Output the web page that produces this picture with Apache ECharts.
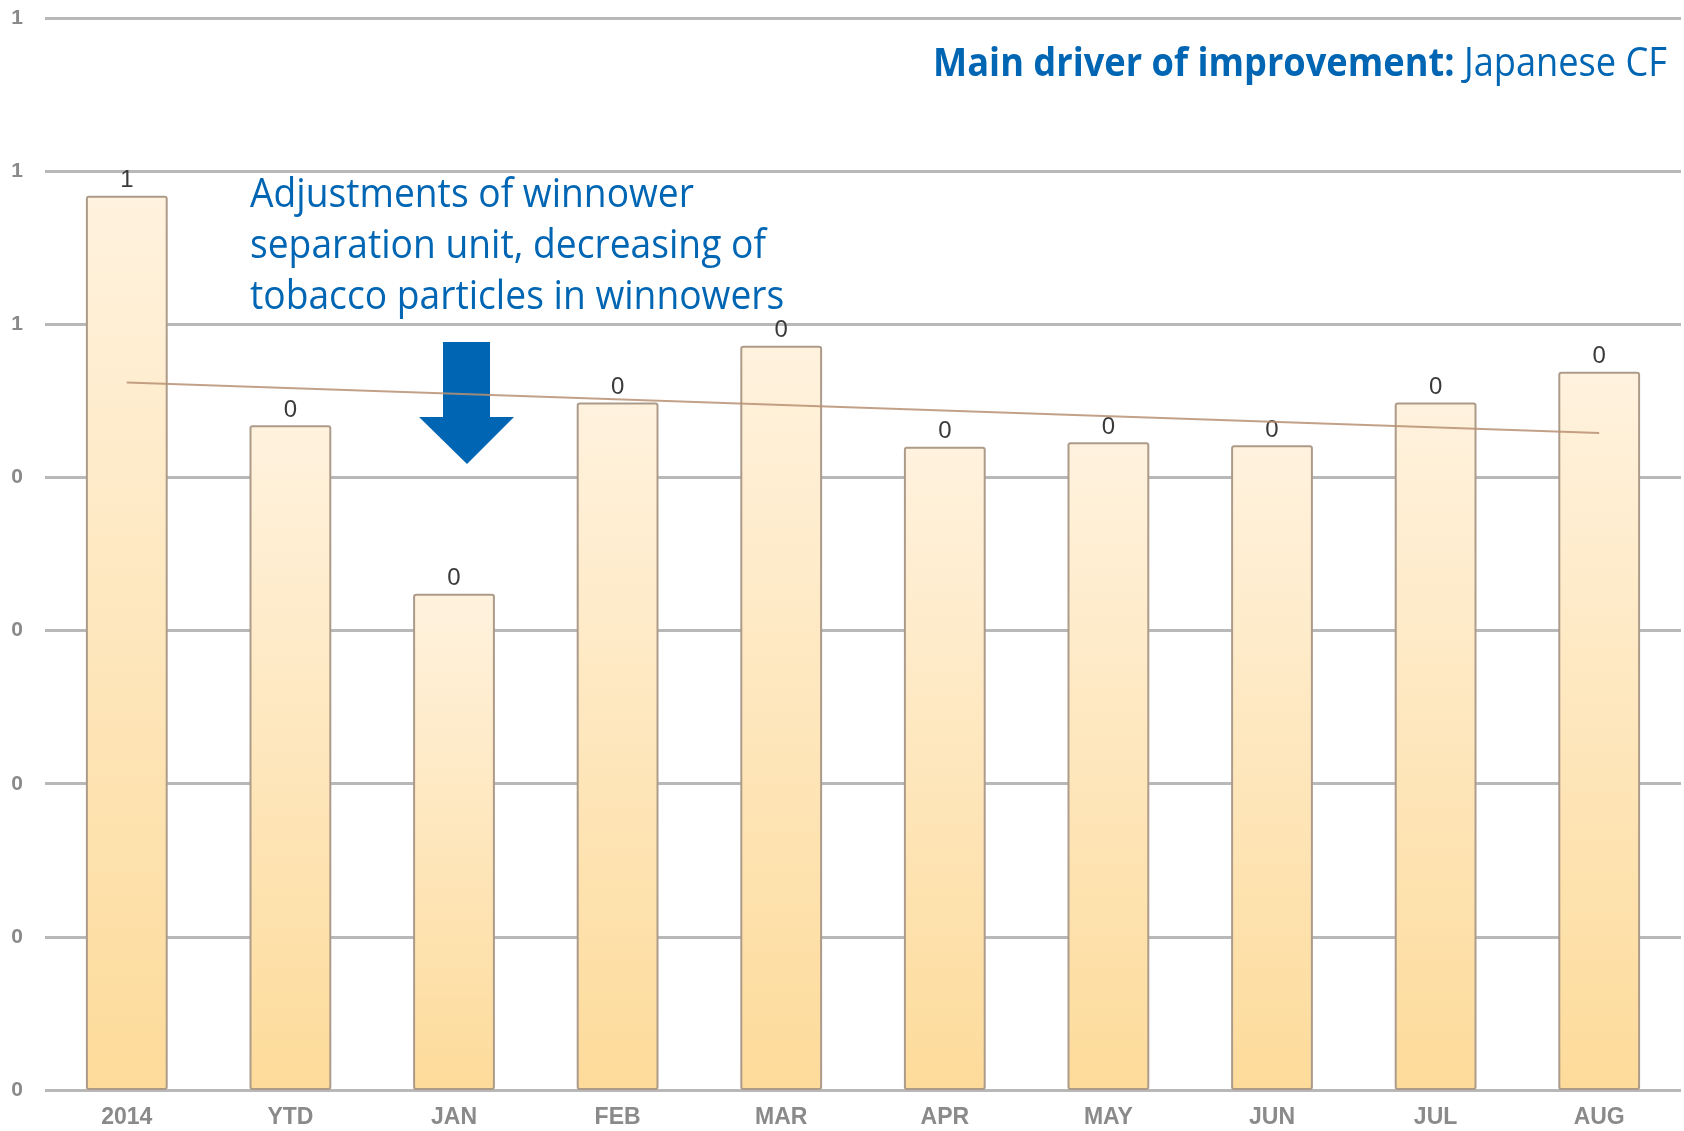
<!DOCTYPE html>
<html>
<head>
<meta charset="utf-8">
<title>Winnower chart</title>
<script src="https://cdn.jsdelivr.net/npm/echarts@6/dist/echarts.min.js"></script>
<style>
  html, body { margin: 0; padding: 0; background: #fff; }
  #chart { width: 1684px; height: 1131px; }
</style>
</head>
<body>
<div id="chart"></div>
<script>
// 类目和数值
var months = ['2014', 'YTD', 'JAN', 'FEB', 'MAR', 'APR', 'MAY', 'JUN', 'JUL', 'AUG'];
var values = [0.584, 0.434, 0.324, 0.449, 0.486, 0.420, 0.423, 0.421, 0.449, 0.469];
// 趋势线：只读出首尾两个端点
var trend = [0.462, null, null, null, null, null, null, null, null, 0.429];

var blue = '#0066b3';

var chart = echarts.init(document.getElementById('chart'));

var option = {
    animation: false,
    grid: {
        left: 45,
        right: 3,
        top: 18,
        bottom: 41
    },
    xAxis: {
        type: 'category',
        data: months,
        axisLine: { show: false },
        axisTick: { show: false },
        axisLabel: {
            margin: 16,
            fontSize: 23,
            fontWeight: 'bold',
            fontFamily: 'Liberation Sans, Arial, sans-serif',
            color: '#8a8a8a'
        }
    },
    yAxis: {
        type: 'value',
        min: 0,
        max: 0.7,
        interval: 0.1,
        axisLine: { show: false },
        axisTick: { show: false },
        axisLabel: {
            margin: 22,
            fontSize: 21,
            fontWeight: 'bold',
            fontFamily: 'Liberation Sans, Arial, sans-serif',
            color: '#8a8a8a',
            formatter: function (v) { return Math.round(v); }
        },
        splitLine: {
            lineStyle: { color: '#b8b8b8', width: 3 }
        }
    },
    series: [
        {
            type: 'bar',
            data: values,
            barWidth: '50%',
            itemStyle: {
                color: new echarts.graphic.LinearGradient(0, 0, 0, 1, [
                    { offset: 0, color: '#fff2de' },
                    { offset: 1, color: '#fddb9a' }
                ]),
                borderColor: '#ad9b8a',
                borderWidth: 2,
                borderRadius: 2
            },
            label: {
                show: true,
                position: 'top',
                distance: 3,
                fontSize: 24,
                fontFamily: 'Liberation Sans, Arial, sans-serif',
                color: '#3a3a3a',
                formatter: function (p) { return Math.round(p.value); }
            }
        },
        {
            type: 'line',
            data: trend,
            connectNulls: true,
            symbol: 'none',
            z: 5,
            lineStyle: { color: 'rgba(185,145,115,0.85)', width: 2 }
        }
    ],
    graphic: [
        {
            type: 'text',
            x: 1667,
            y: 65,
            scaleX: 0.905,
            style: {
                text: '{b|Main driver of improvement:}{n| Japanese CF}',
                align: 'right',
                verticalAlign: 'middle',
                rich: {
                    b: { fontSize: 40, fontWeight: 'bold', fontFamily: 'Open Sans, sans-serif', fill: blue },
                    n: { fontSize: 40, fontFamily: 'Open Sans, sans-serif', fill: blue }
                }
            }
        },
        {
            type: 'text',
            x: 250,
            y: 170,
            scaleX: 0.93,
            style: {
                text: 'Adjustments of winnower\nseparation unit, decreasing of\ntobacco particles in winnowers',
                fontSize: 40,
                lineHeight: 51,
                fontFamily: 'Open Sans, sans-serif',
                fill: blue,
                align: 'left',
                verticalAlign: 'top'
            }
        },
        {
            type: 'polygon',
            shape: {
                points: [[443, 342], [490, 342], [490, 417], [514, 417], [467, 464], [419, 417], [443, 417]]
            },
            style: { fill: blue }
        }
    ]
};

chart.setOption(option);
</script>
</body>
</html>
